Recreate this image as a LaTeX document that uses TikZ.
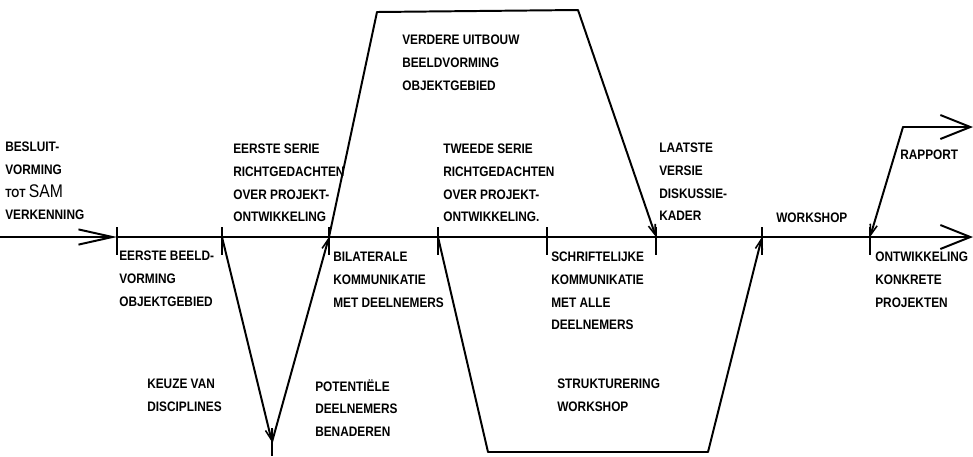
\documentclass[tikz,border=0pt]{standalone}
\usepackage{fontspec}
\setmainfont{Liberation Sans}[FakeStretch=0.86]
\usepackage{tikz}
\usetikzlibrary{arrows.meta, positioning, calc}

\tikzset{
    flow/.style={line width=1.4pt, line cap=round, line join=round},
    tip/.style={-{Straight Barb[length=2.6mm, width=1.8mm, line width=1.1pt]}},
    bigtip/.style={-{Straight Barb[length=7.5mm, width=6mm, line width=1.4pt]}},
    tick/.style={line width=1.3pt},
    lbl/.style={anchor=north west, inner sep=0pt, align=left,
        font=\bfseries\fontsize{9.8}{16.1}\selectfont}
}

\begin{document}
\begin{tikzpicture}[x=0.025cm, y=-0.025cm]
    \useasboundingbox (0,0) rectangle (973,456);

    % Time axis
    \coordinate (start) at (0,237);
    \coordinate (e1) at (117,237); \coordinate (e2) at (222,237);
    \coordinate (e3) at (329,237); \coordinate (e4) at (438,237);
    \coordinate (e5) at (547,237); \coordinate (e6) at (656,237);
    \coordinate (e7) at (762,237); \coordinate (e8) at (870,237);
    \coordinate (end) at (973,237);

    \draw[flow, {Straight Barb[length=8.5mm, width=3.8mm, line width=1.4pt]}-] (e1) -- (start);
    \draw[flow] (e1) -- (e8);
    \draw[flow, bigtip] (e8) -- (end);

    % Ticks on the axis
    \foreach \e in {e1,e2,e3,e4,e5,e6,e7,e8}
        \draw[tick] ($(\e)+(0,-10)$) -- ($(\e)+(0,18)$);

    % Dip: keuze / benaderen
    \coordinate (vb) at (272,442);
    \draw[flow, tip] (e2) -- (vb);
    \draw[tick] (272,428) -- (272,456);
    \draw[flow, tip] (vb) -- (e3);

    % Upper trapezium
    \coordinate (u1) at (377,12); \coordinate (u2) at (578,10);
    \draw[flow, tip] (e3) -- (u1) -- (u2) -- (e6);

    % Lower trapezium
    \coordinate (l1) at (488,452); \coordinate (l2) at (708,452);
    \draw[flow, tip] (e4) -- (l1) -- (l2) -- (e7);

    % Rapport branch
    \coordinate (r1) at (903,127); \coordinate (rend) at (973,127);
    \draw[flow, tip] (r1) -- (e8);
    \draw[flow, bigtip] (r1) -- (rend);

    % Labels above the axis
    \node[lbl] (besluit) at (5,142) {BESLUIT-\\VORMING\\{\fontsize{8.5}{16.1}\selectfont TOT} {\mdseries\fontsize{13}{16.1}\selectfont SAM}\\VERKENNING};
    \node[lbl] (serie1) at (233,144) {EERSTE SERIE\\RICHTGEDACHTEN\\OVER PROJEKT-\\ONTWIKKELING};
    \node[lbl] (uitbouw) at (402,35) {VERDERE UITBOUW\\BEELDVORMING\\OBJEKTGEBIED};
    \node[lbl] (serie2) at (443,144) {TWEEDE SERIE\\RICHTGEDACHTEN\\OVER PROJEKT-\\ONTWIKKELING.};
    \node[lbl] (laatste) at (659,143) {LAATSTE\\VERSIE\\DISKUSSIE-\\KADER};
    \node[lbl] (workshop) at (776,213) {WORKSHOP};
    \node[lbl] (rapport) at (900,150) {RAPPORT};

    % Labels below the axis
    \node[lbl] (beeld) at (119,251) {EERSTE BEELD-\\VORMING\\OBJEKTGEBIED};
    \node[lbl] (bilat) at (333,252) {BILATERALE\\KOMMUNIKATIE\\MET DEELNEMERS};
    \node[lbl] (schrift) at (551,252) {SCHRIFTELIJKE\\KOMMUNIKATIE\\MET ALLE\\DEELNEMERS};
    \node[lbl] (konkreet) at (875,252) {ONTWIKKELING\\KONKRETE\\PROJEKTEN};
    \node[lbl] (keuze) at (147,379) {KEUZE VAN\\DISCIPLINES};
    \node[lbl] (potent) at (315,379) {POTENTIËLE\\DEELNEMERS\\BENADEREN};
    \node[lbl] (struktur) at (557,379) {STRUKTURERING\\WORKSHOP};
\end{tikzpicture}
\end{document}
